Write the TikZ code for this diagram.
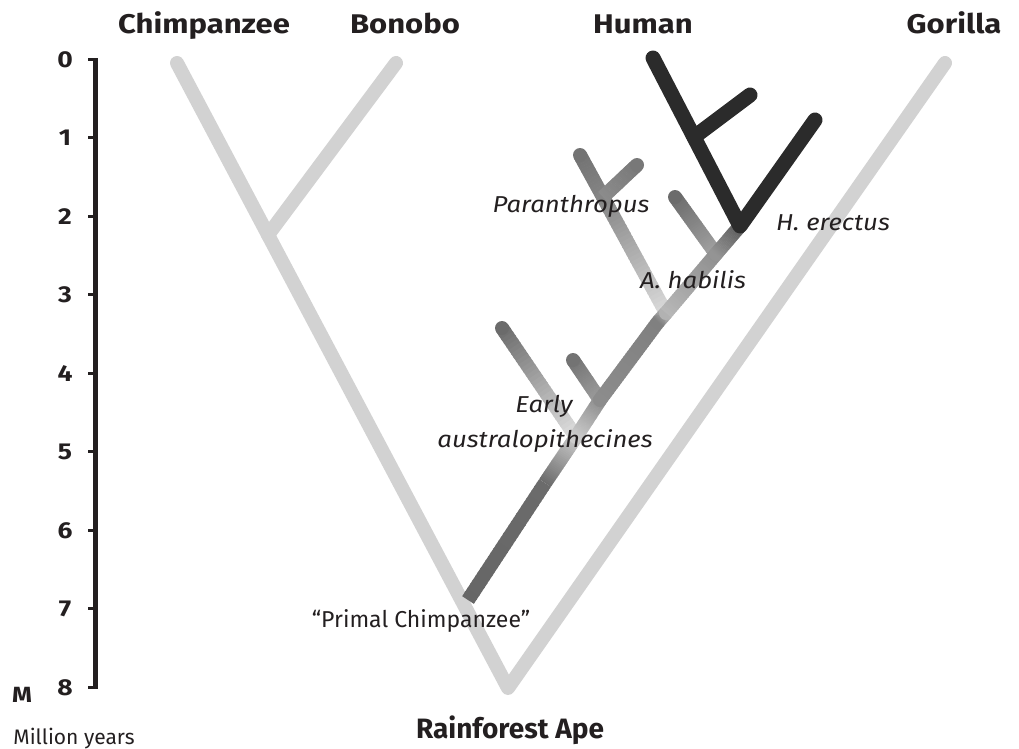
\documentclass[tikz,border=0pt]{standalone}
\usepackage{fontspec}
\setmainfont{Fira Sans}
\newfontfamily\widefont[FakeStretch=1.15]{Fira Sans}
\newfontfamily\specfont[FakeStretch=1.12]{Fira Sans}
\usetikzlibrary{calc}
\definecolor{treegray}{HTML}{D2D2D2}
\definecolor{homodark}{HTML}{2B2B2B}
\definecolor{txt}{HTML}{231F20}
\newcommand{\gradstroke}[4]{%
  \foreach \k in {1,...,30}{%
    \pgfmathsetmacro{\ta}{(\k-1)/30}%
    \pgfmathsetmacro{\tb}{min(1,\k/30+0.01)}%
    \pgfmathsetmacro{\gv}{#2+(#4-#2)*(\k-0.5)/30}%
    \definecolor{gcol}{gray}{\gv}%
    \draw[stemline, gcol] ($(#1)!\ta!(#3)$) -- ($(#1)!\tb!(#3)$);
  }%
}
\newcommand{\graydot}[2]{%
  \definecolor{dcol}{gray}{#2}%
  \fill[dcol] (#1) circle (7pt);%
}
\begin{document}
\begin{tikzpicture}[x=1pt,y=-1pt,
  light/.style={line width=14pt, color=treegray, line cap=round, line join=round},
  dark/.style={line width=15pt, color=homodark, line cap=round, line join=round},
  stemline/.style={line width=14pt, line cap=butt},
  axisline/.style={line width=5pt, color=txt},
  ticknub/.style={line width=3pt, color=txt},
  title/.style={anchor=base, inner sep=0pt, text=txt, font=\widefont\fontsize{27}{29}\selectfont\bfseries},
  num/.style={anchor=base, inner sep=0pt, text=txt, font=\widefont\fontsize{23}{25}\selectfont\bfseries},
  species/.style={anchor=base, inner sep=0pt, text=txt, font=\specfont\fontsize{23}{25}\selectfont\itshape},
  plain/.style={anchor=base, inner sep=0pt, text=txt, font=\fontsize{21}{23}\selectfont},
]
\useasboundingbox (0,0) rectangle (1019,748);

% ---------- axis ----------
\coordinate (ax0) at (95,58);
\coordinate (ax8) at (95,689);
\draw[axisline] (ax0) -- (ax8);
\foreach \v in {0,...,8}{
  \pgfmathsetmacro{\yy}{59+78.5*\v}
  \coordinate (tk\v) at (95,\yy);
  \coordinate (tl\v) at (88,\yy);
  \draw[ticknub] (tl\v) -- (tk\v);
  \node[num] (n\v) at (65,\yy+8) {\v};
}
\node[anchor=base, inner sep=0pt, text=txt, font=\widefont\fontsize{22}{24}\selectfont\bfseries] (mlab) at (22,702) {M};
\node[plain] (myears) at (74,744) {Million years};

% ---------- light tree ----------
\coordinate (chimp) at (177,63);
\coordinate (bonobo) at (396,63);
\coordinate (gorilla) at (945,63);
\coordinate (apex) at (508,688);
\coordinate (bj) at (268,235);
\draw[light] (chimp) -- (apex) -- (gorilla);
\draw[light] (bonobo) -- (bj);

% ---------- human lineage coordinates ----------
\coordinate (p0) at (468,600);
\coordinate (p1) at (545,483);
\coordinate (ea1j) at (576,437);
\coordinate (ea2j) at (600,400);
\coordinate (pm) at (658,322);
\coordinate (paj) at (666,313);
\coordinate (haj) at (716,254);
\coordinate (hej) at (740,226);
\coordinate (ea1t) at (502,328);
\coordinate (ea2t) at (573,360);
\coordinate (pat) at (580,155);
\coordinate (patw) at (637,165);
\coordinate (pajw) at (603,197);
\coordinate (hat) at (675,197);

% side branches
\gradstroke{ea1t}{0.42}{ea1j}{0.88}
\graydot{ea1t}{0.42}
\gradstroke{ea2t}{0.45}{ea2j}{0.62}
\graydot{ea2t}{0.45}
\gradstroke{pat}{0.45}{pajw}{0.52}
\gradstroke{pajw}{0.52}{paj}{0.86}
\graydot{pat}{0.45}
\graydot{pajw}{0.52}
\gradstroke{patw}{0.47}{pajw}{0.55}
\graydot{patw}{0.47}
\gradstroke{hat}{0.42}{haj}{0.64}
\graydot{hat}{0.42}

% main stem
\gradstroke{p0}{0.40}{p1}{0.42}
\gradstroke{p1}{0.42}{ea1j}{0.80}
\graydot{ea1j}{0.80}
\gradstroke{ea1j}{0.80}{ea2j}{0.55}
\graydot{ea2j}{0.55}
\gradstroke{ea2j}{0.55}{pm}{0.50}
\graydot{pm}{0.50}
\gradstroke{pm}{0.50}{paj}{0.70}
\graydot{paj}{0.70}
\gradstroke{paj}{0.72}{haj}{0.56}
\graydot{haj}{0.58}
\gradstroke{haj}{0.58}{hej}{0.35}

% ---------- Homo (dark) ----------
\coordinate (d1) at (653,58);
\coordinate (d2) at (815,120);
\coordinate (d3) at (750,95);
\coordinate (d3j) at (694,137);
\draw[dark] (d1) -- (hej) -- (d2);
\draw[dark] (d3) -- (d3j);

% ---------- labels ----------
\node[title] (tchimp) at (204,33) {Chimpanzee};
\node[title] (tbonobo) at (405,33) {Bonobo};
\node[title] (thuman) at (643,33) {Human};
\node[title] (tgorilla) at (954,33) {Gorilla};
\node[anchor=base, inner sep=0pt, text=txt, font=\fontsize{28}{30}\selectfont\bfseries] (tape) at (510,738) {Rainforest Ape};

\node[species] (lpar) at (571,212) {Paranthropus};
\node[species] (lhe) at (833,230) {H. erectus};
\node[species] (lha) at (693,288) {A. habilis};
\node[species] (learly) at (544,412) {Early};
\node[species] (laus) at (545,447) {australopithecines};
\node[plain, font=\fontsize{23}{25}\selectfont] (lprimal) at (421,627) {“Primal Chimpanzee”};
\end{tikzpicture}
\end{document}
